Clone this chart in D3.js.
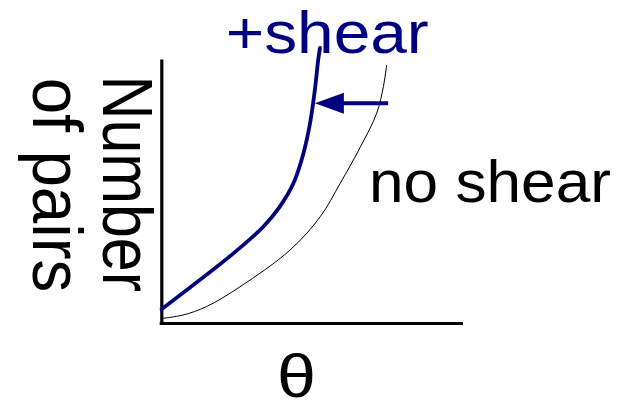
<!DOCTYPE html>
<html>
<head>
<meta charset="utf-8">
<script src="https://cdn.jsdelivr.net/npm/d3@7"></script>
<style>
  html, body { margin: 0; padding: 0; background: #fff; }
  svg { display: block; }
  text { font-family: "Liberation Sans", Arial, sans-serif; }
</style>
</head>
<body>
<svg id="chart" width="624" height="403"></svg>
<script>
// ---- data (arbitrary units) ----
const shearX   = [0.01, 2.39, 3.38, 3.93, 4.38, 4.71, 4.93, 5.09, 5.20, 5.26];
const shearY   = [0.54, 2.65, 3.66, 4.42, 5.30, 6.43, 7.57, 8.83, 9.96, 10.42];
const noShearX = [0.01, 0.72, 1.50, 2.61, 4.27, 5.27, 5.93, 6.60, 7.14, 7.36, 7.47];
const noShearY = [0.19, 0.32, 0.64, 1.39, 2.78, 4.04, 5.30, 6.68, 7.95, 8.95, 9.77];
const arrowFrom = [7.52, 8.33];
const arrowTo   = [5.09, 8.33];
const labels = { shear: "+shear", noShear: "no shear", x: "θ", y1: "Number", y2: "of pairs" };

const blue = "#000080";
const svg = d3.select("#chart");

const x = d3.scaleLinear().domain([0, 10]).range([161.3, 463]);
const y = d3.scaleLinear().domain([0, 10]).range([323.5, 59]);

// axes (domain lines only)
svg.append("g").attr("transform", `translate(0,${y(0)})`)
  .call(d3.axisBottom(x).tickValues([]).tickSizeOuter(0))
  .call(g => g.select(".domain").attr("stroke", "#000").attr("stroke-width", 3.2))
  .call(g => g.select(".domain").attr("d", `M${x(0) - 1.6},0H${x(10)}`));
svg.append("g").attr("transform", `translate(${x(0)},0)`)
  .call(d3.axisLeft(y).tickValues([]).tickSizeOuter(0))
  .call(g => g.select(".domain").attr("stroke", "#000").attr("stroke-width", 3.2));

const line = d3.line().x(d => x(d[0])).y(d => y(d[1])).curve(d3.curveCatmullRom.alpha(0.5));

svg.append("path")
  .datum(noShearX.map((v, i) => [v, noShearY[i]]))
  .attr("d", line).attr("fill", "none").attr("stroke", "#000").attr("stroke-width", 1);

svg.append("path")
  .datum(shearX.map((v, i) => [v, shearY[i]]))
  .attr("d", line).attr("fill", "none").attr("stroke", blue).attr("stroke-width", 3.8)
  .attr("stroke-linecap", "round");

// arrow
const headLen = 29, headHalf = 10.5;
const ax0 = x(arrowFrom[0]), ax1 = x(arrowTo[0]), ay = y(arrowTo[1]);
svg.append("line")
  .attr("x1", ax0).attr("y1", ay).attr("x2", ax1 + headLen - 2).attr("y2", ay)
  .attr("stroke", blue).attr("stroke-width", 4);
svg.append("path")
  .attr("d", `M${ax1},${ay}L${ax1 + headLen},${ay - headHalf}L${ax1 + headLen},${ay + headHalf}Z`)
  .attr("fill", blue);

// labels
svg.append("text").text(labels.shear)
  .attr("x", 225.8).attr("y", 53.3)
  .attr("font-size", 60).attr("fill", blue)
  .attr("textLength", 203).attr("lengthAdjust", "spacingAndGlyphs");

svg.append("text").text(labels.noShear)
  .attr("x", 369).attr("y", 202)
  .attr("font-size", 60).attr("fill", "#000")
  .attr("textLength", 242).attr("lengthAdjust", "spacingAndGlyphs");

svg.append("text").text(labels.x)
  .attr("x", 277).attr("y", 396.5)
  .attr("font-size", 62).attr("fill", "#000")
  .attr("textLength", 39).attr("lengthAdjust", "spacingAndGlyphs");

svg.append("text").text(labels.y1)
  .attr("transform", "translate(103.3,75.4) rotate(90)")
  .attr("font-size", 70).attr("fill", "#000")
  .attr("textLength", 216.6).attr("lengthAdjust", "spacingAndGlyphs");

svg.append("text").text(labels.y2)
  .attr("transform", "translate(33,77.7) rotate(90)")
  .attr("font-size", 70).attr("fill", "#000")
  .attr("textLength", 214.5).attr("lengthAdjust", "spacingAndGlyphs");
</script>
</body>
</html>
